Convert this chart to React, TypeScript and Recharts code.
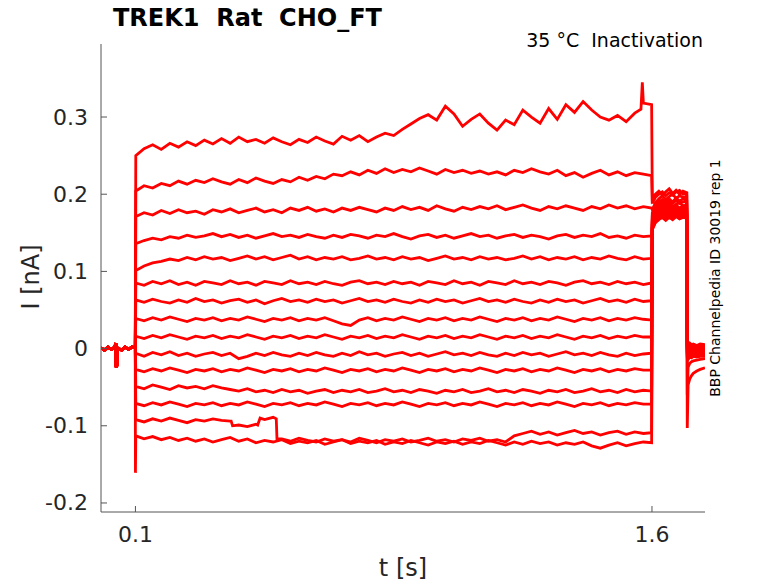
import React from 'react';
import { LineChart, Line, XAxis, YAxis } from 'recharts';

// holding current before the step (same for every sweep)
const baseT = [0, 0.01, 0.02, 0.03, 0.04, 0.043, 0.044, 0.046, 0.047, 0.06, 0.07, 0.08, 0.09, 0.0995];
const baseI = [0.001, -0.002, 0.002, -0.001, 0.002, 0.007, -0.024, -0.022, 0.001, -0.002, 0.002, -0.001, 0.002, 0.001];

// samples during the test pulse
const pulseT = [
  0.101, 0.125, 0.15, 0.175, 0.2, 0.225, 0.25, 0.275, 0.3, 0.325,
  0.35, 0.375, 0.4, 0.425, 0.45, 0.475, 0.5, 0.525, 0.55, 0.575,
  0.6, 0.625, 0.65, 0.675, 0.7, 0.725, 0.75, 0.775, 0.8, 0.825,
  0.85, 0.875, 0.9, 0.925, 0.95, 0.975, 1.0, 1.025, 1.05, 1.075,
  1.1, 1.125, 1.15, 1.175, 1.2, 1.225, 1.25, 1.275, 1.3, 1.325,
  1.35, 1.375, 1.4, 1.425, 1.45, 1.475, 1.5, 1.525, 1.55, 1.575,
  1.599,
];

const sweep01 = [
  0.25, 0.259, 0.264, 0.258, 0.266, 0.261, 0.268, 0.263, 0.27, 0.265,
  0.272, 0.266, 0.274, 0.268, 0.271, 0.266, 0.273, 0.268, 0.264, 0.271,
  0.267, 0.274, 0.269, 0.265, 0.275, 0.27, 0.276, 0.268, 0.274, 0.279,
  0.276, 0.284, 0.291, 0.298, 0.303, 0.296, 0.314, 0.304, 0.288, 0.297,
  0.304, 0.292, 0.283, 0.296, 0.29, 0.309, 0.3, 0.292, 0.311, 0.297,
  0.316, 0.306, 0.32, 0.309, 0.3, 0.296, 0.302, 0.294, 0.305, 0.318,
  0.316,
];
const sweep02 = [
  0.204, 0.211, 0.208, 0.214, 0.211, 0.217, 0.213, 0.218, 0.215, 0.22,
  0.216, 0.213, 0.219, 0.215, 0.221, 0.217, 0.214, 0.219, 0.216, 0.222,
  0.218, 0.223, 0.22, 0.226, 0.224, 0.229, 0.225, 0.231, 0.227, 0.233,
  0.228, 0.232, 0.229, 0.234, 0.23, 0.226, 0.232, 0.228, 0.231, 0.227,
  0.23, 0.226, 0.229, 0.225, 0.231, 0.228, 0.233, 0.229, 0.226, 0.231,
  0.224, 0.228, 0.222, 0.227, 0.231, 0.225, 0.229, 0.224, 0.228, 0.226,
  0.224,
];
const sweep03 = [
  0.171, 0.176, 0.173, 0.179, 0.175, 0.18, 0.176, 0.178, 0.174, 0.18,
  0.177, 0.181, 0.176, 0.179, 0.182, 0.177, 0.18, 0.176, 0.182, 0.179,
  0.183, 0.178, 0.181, 0.177, 0.182, 0.179, 0.183, 0.18, 0.177, 0.182,
  0.179, 0.184, 0.18, 0.183, 0.179, 0.185, 0.181, 0.178, 0.183, 0.18,
  0.184, 0.181, 0.185, 0.18, 0.183, 0.186, 0.182, 0.179, 0.184, 0.181,
  0.185, 0.182, 0.179, 0.184, 0.181, 0.186, 0.182, 0.185, 0.181, 0.184,
  0.182,
];
const sweep04 = [
  0.136, 0.14, 0.143, 0.141, 0.145, 0.143, 0.147, 0.144, 0.146, 0.149,
  0.145, 0.148, 0.144, 0.147, 0.143, 0.146, 0.149, 0.145, 0.147, 0.144,
  0.148, 0.145, 0.143, 0.147, 0.144, 0.148, 0.146, 0.143, 0.147, 0.145,
  0.149, 0.145, 0.142, 0.146, 0.148, 0.144, 0.147, 0.143, 0.146, 0.149,
  0.145, 0.147, 0.143, 0.146, 0.148, 0.144, 0.147, 0.145, 0.142, 0.146,
  0.148, 0.144, 0.147, 0.145, 0.149, 0.144, 0.146, 0.143, 0.147, 0.145,
  0.146,
];
const sweep05 = [
  0.101, 0.107, 0.111, 0.113, 0.116, 0.114, 0.118, 0.115, 0.119, 0.116,
  0.118, 0.114, 0.117, 0.12, 0.116, 0.119, 0.115, 0.118, 0.121, 0.116,
  0.119, 0.115, 0.118, 0.116, 0.119, 0.115, 0.117, 0.12, 0.116, 0.118,
  0.115, 0.119, 0.116, 0.118, 0.114, 0.117, 0.12, 0.116, 0.118, 0.115,
  0.119, 0.116, 0.118, 0.115, 0.117, 0.12, 0.116, 0.119, 0.115, 0.118,
  0.116, 0.119, 0.115, 0.118, 0.116, 0.12, 0.117, 0.115, 0.119, 0.116,
  0.117,
];
const sweep06 = [
  0.085, 0.082, 0.087, 0.084, 0.088, 0.083, 0.086, 0.082, 0.087, 0.085,
  0.083, 0.088, 0.084, 0.086, 0.082, 0.087, 0.085, 0.083, 0.088, 0.084,
  0.086, 0.083, 0.087, 0.084, 0.082, 0.086, 0.088, 0.084, 0.086, 0.083,
  0.087, 0.084, 0.086, 0.082, 0.087, 0.085, 0.083, 0.088, 0.084, 0.086,
  0.082, 0.087, 0.085, 0.083, 0.088, 0.084, 0.086, 0.083, 0.087, 0.085,
  0.082, 0.086, 0.088, 0.084, 0.086, 0.083, 0.087, 0.084, 0.086, 0.083,
  0.085,
];
const sweep07 = [
  0.063, 0.06, 0.064, 0.061, 0.059, 0.063, 0.06, 0.065, 0.061, 0.063,
  0.059, 0.062, 0.064, 0.06, 0.063, 0.058, 0.062, 0.065, 0.061, 0.063,
  0.06, 0.064, 0.061, 0.063, 0.059, 0.062, 0.065, 0.061, 0.063, 0.06,
  0.064, 0.061, 0.059, 0.063, 0.06, 0.064, 0.061, 0.063, 0.059, 0.062,
  0.065, 0.061, 0.063, 0.06, 0.064, 0.061, 0.059, 0.063, 0.06, 0.064,
  0.061, 0.063, 0.059, 0.062, 0.065, 0.061, 0.063, 0.06, 0.064, 0.061,
  0.062,
];
const sweep08 = [
  0.039, 0.036, 0.04, 0.037, 0.041, 0.038, 0.035, 0.039, 0.037, 0.04,
  0.036, 0.039, 0.037, 0.041, 0.038, 0.035, 0.039, 0.037, 0.04, 0.036,
  0.039, 0.037, 0.04, 0.036, 0.032, 0.03, 0.037, 0.04, 0.036, 0.039,
  0.037, 0.041, 0.038, 0.035, 0.039, 0.037, 0.04, 0.036, 0.039, 0.037,
  0.041, 0.038, 0.035, 0.039, 0.037, 0.04, 0.036, 0.039, 0.037, 0.041,
  0.038, 0.035, 0.039, 0.037, 0.04, 0.036, 0.039, 0.037, 0.04, 0.038,
  0.037,
];
const sweep09 = [
  0.016, 0.013, 0.017, 0.014, 0.018, 0.015, 0.012, 0.016, 0.014, 0.017,
  0.013, 0.016, 0.014, 0.018, 0.015, 0.012, 0.016, 0.014, 0.017, 0.013,
  0.016, 0.014, 0.018, 0.015, 0.012, 0.016, 0.014, 0.017, 0.013, 0.016,
  0.014, 0.018, 0.015, 0.012, 0.016, 0.014, 0.017, 0.013, 0.016, 0.014,
  0.018, 0.015, 0.012, 0.016, 0.014, 0.017, 0.013, 0.016, 0.014, 0.018,
  0.015, 0.012, 0.016, 0.014, 0.017, 0.013, 0.016, 0.014, 0.017, 0.015,
  0.015,
];
const sweep10 = [
  -0.006, -0.01, -0.005, -0.008, -0.004, -0.009, -0.006, -0.01, -0.007, -0.005,
  -0.009, -0.006, -0.013, -0.01, -0.006, -0.009, -0.005, -0.008, -0.01, -0.006,
  -0.009, -0.005, -0.008, -0.01, -0.006, -0.009, -0.004, -0.008, -0.006, -0.01,
  -0.007, -0.005, -0.009, -0.006, -0.01, -0.007, -0.004, -0.008, -0.006, -0.009,
  -0.005, -0.008, -0.01, -0.006, -0.009, -0.005, -0.008, -0.006, -0.01, -0.007,
  -0.004, -0.008, -0.006, -0.009, -0.005, -0.008, -0.01, -0.006, -0.009, -0.007,
  -0.006,
];
const sweep11 = [
  -0.027, -0.03, -0.026, -0.029, -0.025, -0.028, -0.031, -0.027, -0.029, -0.026,
  -0.03, -0.027, -0.029, -0.025, -0.028, -0.031, -0.027, -0.029, -0.026, -0.03,
  -0.027, -0.029, -0.025, -0.028, -0.031, -0.027, -0.029, -0.026, -0.03, -0.027,
  -0.029, -0.025, -0.028, -0.031, -0.027, -0.029, -0.026, -0.03, -0.027, -0.029,
  -0.025, -0.028, -0.031, -0.027, -0.029, -0.026, -0.03, -0.027, -0.029, -0.025,
  -0.028, -0.031, -0.027, -0.029, -0.026, -0.03, -0.027, -0.029, -0.026, -0.028,
  -0.028,
];
const sweep12 = [
  -0.049, -0.052, -0.047, -0.05, -0.053, -0.048, -0.051, -0.049, -0.052, -0.048,
  -0.051, -0.053, -0.055, -0.052, -0.056, -0.054, -0.057, -0.053, -0.056, -0.054,
  -0.058, -0.055, -0.053, -0.057, -0.054, -0.056, -0.053, -0.057, -0.055, -0.052,
  -0.056, -0.054, -0.057, -0.053, -0.055, -0.058, -0.054, -0.056, -0.053, -0.057,
  -0.055, -0.052, -0.056, -0.054, -0.057, -0.053, -0.055, -0.058, -0.054, -0.056,
  -0.053, -0.057, -0.055, -0.052, -0.056, -0.054, -0.057, -0.053, -0.056, -0.054,
  -0.055,
];
const sweep13 = [
  -0.071, -0.074, -0.07, -0.073, -0.069, -0.072, -0.075, -0.071, -0.073, -0.07,
  -0.074, -0.071, -0.073, -0.069, -0.072, -0.075, -0.071, -0.073, -0.07, -0.074,
  -0.071, -0.073, -0.069, -0.072, -0.075, -0.071, -0.073, -0.07, -0.074, -0.071,
  -0.073, -0.069, -0.072, -0.075, -0.071, -0.073, -0.07, -0.074, -0.071, -0.073,
  -0.069, -0.072, -0.075, -0.071, -0.073, -0.07, -0.074, -0.071, -0.073, -0.069,
  -0.072, -0.075, -0.071, -0.073, -0.07, -0.074, -0.071, -0.073, -0.07, -0.072,
  -0.072,
];
const sweep14 = [
  -0.092, -0.095, -0.091, -0.094, -0.09, -0.093, -0.096, -0.092, -0.094, -0.091,
  -0.093, -0.094, -0.099, -0.101, -0.098, -0.092, -0.089, -0.117, -0.12, -0.116,
  -0.119, -0.121, -0.117, -0.12, -0.118, -0.121, -0.116, -0.119, -0.122, -0.118,
  -0.12, -0.117, -0.121, -0.119, -0.116, -0.12, -0.118, -0.121, -0.117, -0.119,
  -0.116, -0.12, -0.118, -0.121, -0.113, -0.11, -0.107, -0.111, -0.108, -0.112,
  -0.109, -0.106, -0.11, -0.108, -0.112, -0.109, -0.107, -0.111, -0.108, -0.11,
  -0.109,
];
const sweep15 = [
  -0.113, -0.117, -0.114, -0.118, -0.115, -0.119, -0.116, -0.12, -0.117, -0.121,
  -0.118, -0.115, -0.12, -0.117, -0.122, -0.119, -0.121, -0.118, -0.123, -0.12,
  -0.122, -0.119, -0.124, -0.121, -0.118, -0.123, -0.12, -0.122, -0.119, -0.124,
  -0.121, -0.123, -0.119, -0.122, -0.125, -0.121, -0.123, -0.12, -0.124, -0.121,
  -0.123, -0.119, -0.122, -0.125, -0.121, -0.124, -0.12, -0.123, -0.121, -0.125,
  -0.122, -0.124, -0.121, -0.126, -0.129, -0.125, -0.122, -0.126, -0.123, -0.121,
  -0.122,
];

const pulseSweeps = [
  sweep01, sweep02, sweep03, sweep04, sweep05, sweep06, sweep07, sweep08,
  sweep09, sweep10, sweep11, sweep12, sweep13, sweep14, sweep15,
];

// tail current after the pulse
const tailT = [1.601, 1.61, 1.62, 1.63, 1.64, 1.65, 1.66, 1.67, 1.68, 1.69, 1.701];
const tailI = [
  [0.193, 0.2, 0.204, 0.199, 0.203, 0.207, 0.201, 0.205, 0.2, 0.204, 0.202],
  [0.188, 0.196, 0.2, 0.203, 0.198, 0.202, 0.199, 0.203, 0.205, 0.2, 0.201],
  [0.18, 0.189, 0.194, 0.198, 0.193, 0.197, 0.2, 0.195, 0.198, 0.196, 0.197],
  [0.176, 0.185, 0.19, 0.193, 0.189, 0.194, 0.19, 0.195, 0.191, 0.194, 0.192],
  [0.172, 0.181, 0.187, 0.19, 0.186, 0.191, 0.188, 0.192, 0.188, 0.19, 0.19],
  [0.168, 0.178, 0.184, 0.187, 0.183, 0.188, 0.184, 0.187, 0.189, 0.185, 0.186],
  [0.165, 0.176, 0.181, 0.184, 0.18, 0.185, 0.182, 0.186, 0.182, 0.185, 0.184],
  [0.163, 0.174, 0.179, 0.182, 0.178, 0.182, 0.179, 0.183, 0.18, 0.183, 0.181],
  [0.161, 0.172, 0.177, 0.18, 0.176, 0.18, 0.177, 0.181, 0.178, 0.18, 0.179],
  [0.159, 0.17, 0.175, 0.178, 0.174, 0.178, 0.175, 0.179, 0.176, 0.178, 0.177],
  [0.158, 0.168, 0.173, 0.177, 0.172, 0.176, 0.174, 0.177, 0.174, 0.177, 0.175],
  [0.157, 0.166, 0.171, 0.175, 0.171, 0.174, 0.172, 0.176, 0.172, 0.175, 0.174],
  [0.156, 0.165, 0.17, 0.173, 0.169, 0.173, 0.17, 0.174, 0.171, 0.173, 0.172],
  [0.155, 0.164, 0.168, 0.171, 0.168, 0.171, 0.169, 0.172, 0.169, 0.172, 0.171],
  [0.154, 0.163, 0.167, 0.17, 0.166, 0.17, 0.167, 0.171, 0.168, 0.17, 0.169],
];

// back to holding
const postT = [1.7025, 1.705, 1.71, 1.715, 1.72, 1.73, 1.74, 1.754];
const postI = [
  [0.006, 0.004, 0.007, 0.005, 0.006, 0.004, 0.006, 0.005],
  [0.004, 0.002, 0.005, 0.003, 0.005, 0.003, 0.004, 0.004],
  [0.003, 0.001, 0.003, 0.004, 0.002, 0.004, 0.003, 0.003],
  [0.002, 0.0, 0.002, 0.001, 0.003, 0.001, 0.002, 0.002],
  [0.001, -0.001, 0.001, 0.002, 0.0, 0.002, 0.0, 0.0],
  [0.0, -0.002, 0.0, -0.001, 0.001, -0.001, 0.001, 0.001],
  [-0.002, -0.004, -0.001, -0.002, -0.001, -0.003, -0.001, -0.001],
  [-0.003, -0.005, -0.002, -0.004, -0.002, -0.003, -0.002, -0.002],
  [-0.005, -0.007, -0.004, -0.003, -0.005, -0.003, -0.004, -0.004],
  [-0.006, -0.008, -0.005, -0.006, -0.004, -0.006, -0.005, -0.005],
  [-0.008, -0.01, -0.007, -0.006, -0.008, -0.006, -0.007, -0.007],
  [-0.01, -0.012, -0.009, -0.01, -0.008, -0.009, -0.008, -0.008],
  [-0.012, -0.014, -0.011, -0.012, -0.01, -0.011, -0.01, -0.01],
  [-0.06, -0.024, -0.019, -0.017, -0.016, -0.015, -0.014, -0.013],
  [-0.103, -0.047, -0.039, -0.035, -0.032, -0.029, -0.027, -0.025],
];

// sharp events that fall between samples: [t, I]
const extraPoints: Record<number, [number, number][]> = {
  0: [[1.568, 0.31], [1.572, 0.345]],
  13: [[0.378, -0.094], [0.382, -0.1], [0.455, -0.099], [0.462, -0.09], [0.509, -0.091], [0.511, -0.117]],
  14: [[0.1, -0.161]],
};

const yTicks = [-0.2, -0.1, 0, 0.1, 0.2, 0.3];
const xTicks = [0.1, 1.6];

const W = 778;
const H = 583;
const LEFT = 101;
const RIGHT = 705;
const TOP = 44;
const BOTTOM = 512;
const FONT = '"DejaVu Sans", sans-serif';

const buildSweep = (i: number) => {
  const pts = [
    ...baseT.map((t, j) => ({ t, I: baseI[j] })),
    ...pulseT.map((t, j) => ({ t, I: pulseSweeps[i][j] })),
    ...tailT.map((t, j) => ({ t, I: tailI[i][j] })),
    ...postT.map((t, j) => ({ t, I: postI[i][j] })),
    ...(extraPoints[i] || []).map(([t, I]) => ({ t, I })),
  ];
  return pts.sort((a, b) => a.t - b.t);
};

const sweeps = pulseSweeps.map((_, i) => buildSweep(i));

const fmt = (v: number) => (v === 0 ? '0' : String(Math.round(v * 10) / 10));

const YTick = (props: any) => {
  const { y, payload } = props;
  return (
    <g>
      <line x1={LEFT} x2={LEFT + 6} y1={y} y2={y} stroke="#555" strokeWidth={1} />
      <text x={LEFT - 13} y={y} textAnchor="end" dominantBaseline="central" fontSize={22} fill="#262626" fontFamily={FONT}>
        {fmt(payload.value)}
      </text>
    </g>
  );
};

const XTick = (props: any) => {
  const { x, payload } = props;
  return (
    <g>
      <line x1={x} x2={x} y1={BOTTOM} y2={BOTTOM - 6} stroke="#555" strokeWidth={1} />
      <text x={x} y={BOTTOM + 30} textAnchor="middle" fontSize={22} fill="#262626" fontFamily={FONT}>
        {payload.value}
      </text>
    </g>
  );
};

export default function App() {
  return (
    <div style={{ position: 'absolute', left: 0, top: 0, width: W, height: H, background: '#fff' }}>
      <LineChart
        width={W}
        height={H}
        margin={{ top: TOP, right: W - RIGHT, bottom: H - BOTTOM - 40, left: LEFT - 60 }}
      >
        <XAxis
          type="number"
          dataKey="t"
          domain={[0, 1.754]}
          ticks={xTicks}
          height={40}
          tickLine={false}
          tickSize={0}
          axisLine={{ stroke: '#555', strokeWidth: 1 }}
          tick={<XTick />}
          allowDataOverflow
        />
        <YAxis
          type="number"
          dataKey="I"
          domain={[-0.2117, 0.3946]}
          ticks={yTicks}
          width={60}
          tickLine={false}
          tickSize={0}
          axisLine={{ stroke: '#555', strokeWidth: 1 }}
          tick={<YTick />}
          allowDataOverflow
        />
        {sweeps.map((data, i) => (
          <Line
            key={i}
            data={data}
            dataKey="I"
            type="linear"
            stroke="#ff0000"
            strokeWidth={2.8}
            dot={false}
            activeDot={false}
            isAnimationActive={false}
          />
        ))}
      </LineChart>
      <svg width={W} height={H} style={{ position: 'absolute', left: 0, top: 0, pointerEvents: 'none' }}>
        <text x={113} y={26} fontSize={24} fontWeight="bold" fill="#000" fontFamily={FONT} style={{ whiteSpace: 'pre' }}>
          {'TREK1  Rat  CHO_FT'}
        </text>
        <text x={703} y={47} textAnchor="end" fontSize={19} fill="#000" fontFamily={FONT} style={{ whiteSpace: 'pre' }}>
          {'35 °C  Inactivation'}
        </text>
        <text
          transform="translate(720, 278) rotate(-90)"
          textAnchor="middle"
          fontSize={14}
          fill="#000"
          fontFamily={FONT}
        >
          BBP Channelpedia ID 30019 rep 1
        </text>
        <text transform="translate(39, 277) rotate(-90)" textAnchor="middle" fontSize={24} fill="#262626" fontFamily={FONT}>
          I [nA]
        </text>
        <text x={403} y={576} textAnchor="middle" fontSize={24} fill="#262626" fontFamily={FONT}>
          t [s]
        </text>
      </svg>
    </div>
  );
}
